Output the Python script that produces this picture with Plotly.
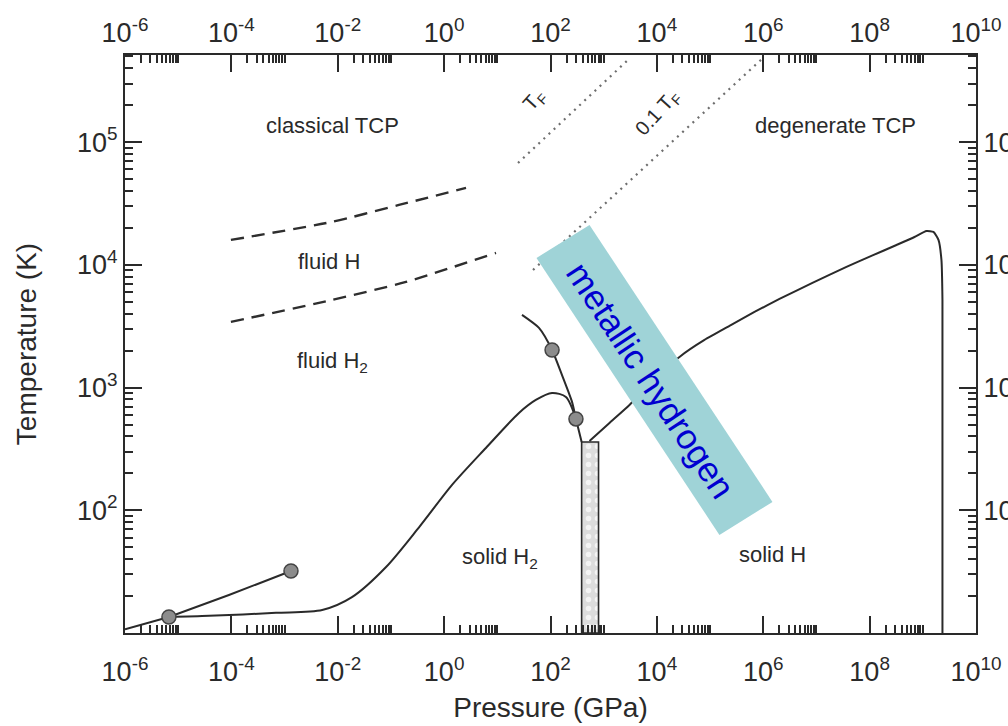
import math
import plotly.graph_objects as go

FONT = "Liberation Sans, Arial, Helvetica, sans-serif"
INK = "#2a2a2a"

# ---- phase boundaries of hydrogen (pressure in GPa, temperature in K) ----
# sublimation + liquid-vapour line, ending at the critical point
vapor_p = [1.0e-6, 6.7e-6, 9.0e-5, 1.32e-3]
vapor_t = [10.7, 13.5, 20.4, 32.0]

# melting line of molecular hydrogen (from the triple point)
melt_h2_p = [6.7e-6, 3.8e-5, 6.9e-4, 5.1e-3, 1.85e-2, 8.1e-2, 0.34, 1.41, 6.1,
             25.5, 53.0, 107.0, 195.0, 301.0]
melt_h2_t = [13.5, 13.8, 14.6, 15.4, 19.6, 34.5, 73.0, 161.0, 322.0,
             621.0, 793.0, 904.0, 838.0, 555.0]

# liquid-liquid (plasma phase) transition line
ppt_p = [29.1, 60.7, 107.0, 164.0, 254.0, 301.0, 385.0]
ppt_t = [3908.0, 3062.0, 2023.0, 1268.0, 764.0, 555.0, 360.0]

# melting line of atomic (solid) hydrogen
melt_h_p = [541.0, 1285.0, 3055.0, 9016.0, 2.661e4, 7.852e4, 2.317e5, 6.84e5,
            2.02e6, 8.41e6, 3.67e7, 1.08e8, 3.2e8, 6.97e8, 1.17e9, 1.585e9,
            1.97e9, 2.24e9, 2.34e9, 2.34e9]
melt_h_t = [367.0, 515.0, 722.0, 1153.0, 1776.0, 2443.0, 3177.0, 4131.0,
            5272.0, 7119.0, 9616.0, 11830.0, 14520.0, 16870.0, 18890.0, 18540.0,
            15960.0, 10960.0, 5176.0, 10.0]

# special points: triple point, critical point, two critical points at high P
points_p = [6.7e-6, 1.32e-3, 107.0, 301.0]
points_t = [13.5, 32.0, 2023.0, 555.0]

# dissociation / ionisation boundaries
diss_upper_p = [9.8e-5, 7.8e-3, 0.1416, 2.58]
diss_upper_t = [15960.0, 22390.0, 30760.0, 42360.0]
diss_lower_p = [9.8e-5, 7.8e-3, 0.192, 9.44]
diss_lower_t = [3428.0, 5176.0, 7261.0, 12500.0]

# Fermi temperature lines
tf_p = [24.5, 2990.0]
tf_t = [67600.0, 476000.0]
tf01_p = [46.9, 9.9e5]
tf01_t = [9080.0, 485000.0]

# mixed-phase column at the molecular -> atomic transition
column_p = [385.0, 800.0]
column_t = [10.0, 360.0]

# metallic hydrogen band (corner points)
metal_p = [54.5, 541.0, 1.49e6, 1.50e5]
metal_t = [11380.0, 21130.0, 117.0, 63.0]

# ---- axes ticks ----
x_major = [10.0 ** e for e in range(-6, 11, 2)]
x_labels = ["10<sup>%d</sup>" % e for e in range(-6, 11, 2)]
x_minor = [k * 10.0 ** e for e in range(-6, 10, 2) for k in range(2, 11)]

y_major = [10.0 ** e for e in range(2, 6)]
y_labels = ["10<sup>%d</sup>" % e for e in range(2, 6)]
y_minor = [k * 10.0 ** e for e in range(1, 6) for k in range(2, 10) if k * 10.0 ** e < 5.1e5]

fig = go.Figure()

# mixed-phase column
fig.add_trace(go.Scatter(
    x=[column_p[0], column_p[0], column_p[1], column_p[1], column_p[0]],
    y=[column_t[0], column_t[1], column_t[1], column_t[0], column_t[0]],
    mode="lines", fill="toself", fillcolor="#d8d8d8",
    fillpattern=dict(shape=".", bgcolor="#dcdcdc", fgcolor="#f4f4f4", size=9, solidity=0.3),
    line=dict(color=INK, width=1.6), hoverinfo="skip"))

solid = dict(color=INK, width=2)
fig.add_trace(go.Scatter(x=vapor_p, y=vapor_t, mode="lines", line=solid))
fig.add_trace(go.Scatter(x=melt_h2_p, y=melt_h2_t, mode="lines",
                         line=dict(solid, shape="spline", smoothing=0.8)))
fig.add_trace(go.Scatter(x=ppt_p, y=ppt_t, mode="lines",
                         line=dict(solid, shape="spline", smoothing=0.6)))
fig.add_trace(go.Scatter(x=melt_h_p, y=melt_h_t, mode="lines",
                         line=dict(solid, shape="spline", smoothing=0.5)))

dashed = dict(color="#2e2e2e", width=2.4, dash="13px,8px")
fig.add_trace(go.Scatter(x=diss_upper_p, y=diss_upper_t, mode="lines",
                         line=dict(dashed, shape="spline", smoothing=0.6)))
fig.add_trace(go.Scatter(x=diss_lower_p, y=diss_lower_t, mode="lines",
                         line=dict(dashed, shape="spline", smoothing=0.6)))

dotted = dict(color="#6e6e6e", width=2.2, dash="2px,5px")
fig.add_trace(go.Scatter(x=tf_p, y=tf_t, mode="lines", line=dotted))
fig.add_trace(go.Scatter(x=tf01_p, y=tf01_t, mode="lines", line=dotted))

fig.add_trace(go.Scatter(x=points_p, y=points_t, mode="markers",
                         marker=dict(size=14, color="#8c8c8c",
                                     line=dict(color="#444444", width=1.5))))

# metallic hydrogen band on top of the lines
fig.add_trace(go.Scatter(x=metal_p + metal_p[:1], y=metal_t + metal_t[:1],
                         mode="lines", fill="toself", fillcolor="#9fd3d7",
                         line=dict(width=0, color="#9fd3d7"), hoverinfo="skip"))

# empty trace carrying the top / right axes
fig.add_trace(go.Scatter(x=[None], y=[None], xaxis="x2", yaxis="y2",
                         mode="markers", hoverinfo="skip"))


def lg(v):
    return math.log10(v)


region_labels = [
    ("classical TCP", 7.94e-3, 1.355e5),
    ("degenerate TCP", 2.28e7, 1.355e5),
    ("fluid H", 6.98e-3, 1.06e4),
    ("fluid H<sub>2</sub>", 7.94e-3, 1.62e3),
    ("solid H<sub>2</sub>", 11.0, 41.0),
    ("solid H", 1.49e6, 44.0),
]
for text, p, t in region_labels:
    fig.add_annotation(x=lg(p), y=lg(t), text=text, showarrow=False,
                       font=dict(family=FONT, size=22, color=INK))

for text, p, t in [("T<sub>F</sub>", 50.0, 2.2e5), ("0.1 T<sub>F</sub>", 1.03e4, 1.72e5)]:
    fig.add_annotation(x=lg(p), y=lg(t), text=text, showarrow=False,
                       font=dict(family=FONT, size=20, color=INK), textangle=-48)

fig.add_annotation(x=lg(7.9e3), y=lg(1150.0), text="metallic hydrogen", showarrow=False,
                   font=dict(family=FONT, size=35, color="#0000d0"), textangle=56.5)

axis_base = dict(
    type="log", showgrid=False, zeroline=False, showline=True,
    linecolor=INK, linewidth=2, ticks="inside", ticklen=17, tickwidth=1.5,
    tickcolor=INK, tickfont=dict(family=FONT, size=27, color=INK),
    automargin=False,
)
x_minor_style = dict(ticks="inside", ticklen=8, tickwidth=1.5, tickcolor=INK,
                     tickmode="array", tickvals=x_minor)
y_minor_style = dict(ticks="inside", ticklen=8, tickwidth=1.5, tickcolor=INK,
                     tickmode="array", tickvals=y_minor)

fig.update_layout(
    template="none",
    width=1008, height=726,
    margin=dict(l=125, r=32, t=55, b=93),
    plot_bgcolor="white", paper_bgcolor="white",
    showlegend=False,
    font=dict(family=FONT, color=INK),
    xaxis=dict(axis_base, range=[-6, 10], tickmode="array", tickvals=x_major,
               ticktext=x_labels, minor=x_minor_style, ticklabelstandoff=14,
               title=dict(text="Pressure (GPa)", font=dict(family=FONT, size=28, color=INK),
                          standoff=11)),
    xaxis2=dict(axis_base, range=[-6, 10], tickmode="array", tickvals=x_major,
                ticktext=x_labels, minor=x_minor_style,
                overlaying="x", side="top", anchor="y"),
    yaxis=dict(axis_base, range=[1.0, 5.71], tickmode="array", tickvals=y_major,
               ticktext=y_labels, minor=y_minor_style,
               title=dict(text="Temperature (K)", font=dict(family=FONT, size=28, color=INK),
                          standoff=32)),
    yaxis2=dict(axis_base, range=[1.0, 5.71], tickmode="array", tickvals=y_major,
                ticktext=y_labels, minor=y_minor_style,
                overlaying="y", side="right", anchor="x"),
)

fig.write_html("out.html")
